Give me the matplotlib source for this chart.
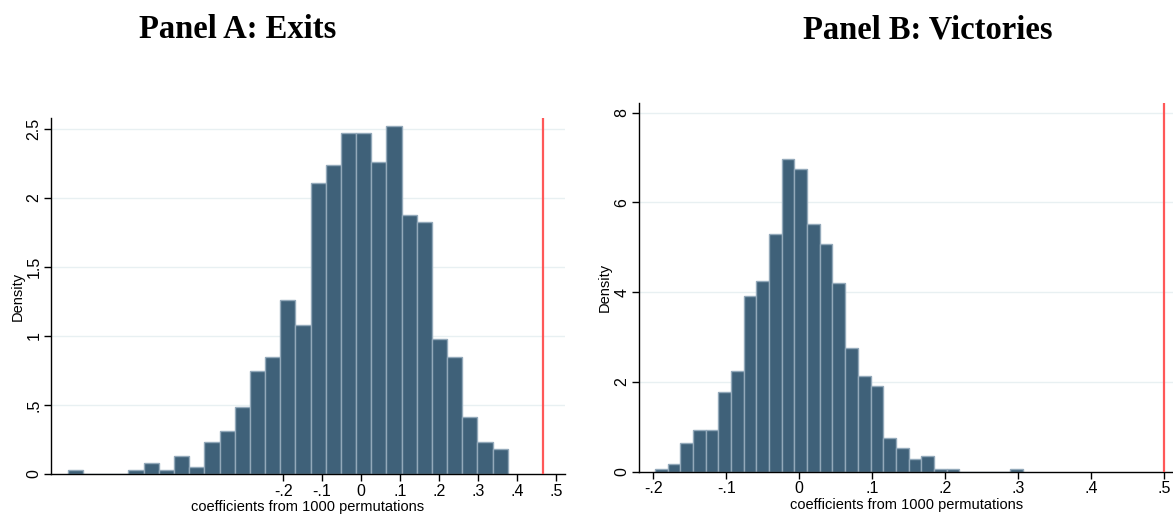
# permutation-test histograms for exits and victories
import matplotlib.pyplot as plt
import numpy as np

plt.rcParams['font.family'] = ['Liberation Sans', 'DejaVu Sans']

# Panel A: exits -- 29 bins, counts out of 1000 permutations
exits_start = -0.752
exits_width = 0.0389
exits_counts = [1, 0, 0, 0, 1, 3, 1, 5, 2, 9, 12, 19, 29, 33, 49, 42, 82, 87,
                96, 96, 88, 98, 73, 71, 38, 33, 16, 9, 7]
exits_actual = 0.467
exits_xticks = [-0.2, -0.1, 0, 0.1, 0.2, 0.3, 0.4, 0.5]
exits_xlabels = ['-.2', '-.1', '0', '.1', '.2', '.3', '.4', '.5']
exits_yticks = [0, 0.5, 1, 1.5, 2, 2.5]
exits_ylabels = ['0', '.5', '1', '1.5', '2', '2.5']

# Panel B: victories
vict_start = -0.1977
vict_width = 0.01738
vict_counts = [1, 3, 11, 16, 16, 31, 39, 68, 74, 92, 121, 117, 96, 88, 73, 48,
               37, 33, 13, 9, 5, 6, 1, 1, 0, 0, 0, 0, 1]
vict_actual = 0.4995
vict_xticks = [-0.2, -0.1, 0, 0.1, 0.2, 0.3, 0.4, 0.5]
vict_xlabels = ['-.2', '-.1', '0', '.1', '.2', '.3', '.4', '.5']
vict_yticks = [0, 2, 4, 6, 8]
vict_ylabels = ['0', '2', '4', '6', '8']

bar_face = '#3f6179'
bar_edge = '#93a9ba'
grid_col = '#e8f0f2'
red = '#ff5858'


def panel(ax, start, width, counts, actual, xt, xl, yt, yl, xlim, ylim, xlab_y):
    edges = start + width * np.arange(len(counts) + 1)
    ax.hist(edges[:-1] + width / 2, bins=edges, weights=counts, density=True,
            color=bar_face, edgecolor=bar_edge, linewidth=1.0, zorder=2)
    ax.axvline(actual, color=red, linewidth=1.6, zorder=3)
    ax.set_xlim(*xlim)
    ax.set_ylim(*ylim)
    ax.set_xticks(xt)
    ax.set_xticklabels(xl)
    ax.set_yticks(yt)
    ax.set_yticklabels(yl, rotation=90, va='center')
    for y in yt[1:]:
        ax.axhline(y, color=grid_col, linewidth=1.0, zorder=1)
    for s in ['top', 'right']:
        ax.spines[s].set_visible(False)
    for s in ['left', 'bottom']:
        ax.spines[s].set_linewidth(1.0)
    ax.tick_params(direction='out', length=5, width=1, labelsize=11.5, pad=2)
    ax.set_ylabel('Density', fontsize=10.5, va='center')
    ax.yaxis.set_label_coords(-0.064, 0.5)
    ax.set_xlabel('coefficients from 1000 permutations', fontsize=10.5, va='center')
    ax.xaxis.set_label_coords(0.5, xlab_y)


fig = plt.figure(figsize=(11.73, 5.14), dpi=100)
ax1 = fig.add_axes([0.0435, 0.0778, 0.4382, 0.6926])
ax2 = fig.add_axes([0.5450, 0.0823, 0.4550, 0.7179])

panel(ax1, exits_start, exits_width, exits_counts, exits_actual,
      exits_xticks, exits_xlabels, exits_yticks, exits_ylabels,
      (-0.795, 0.523), (0, 2.58), -0.092)
panel(ax2, vict_start, vict_width, vict_counts, vict_actual,
      vict_xticks, vict_xlabels, vict_yticks, vict_ylabels,
      (-0.219, 0.512), (0, 8.22), -0.089)

title_font = dict(fontsize=23.5, fontweight='bold', family=['Liberation Serif'],
                  ha='center', va='center')
fig.text(238 / 1173, 1 - 30 / 514, 'Panel A: Exits', **title_font)
fig.text(928 / 1173, 1 - 30 / 514, 'Panel B: Victories', **title_font)

fig.savefig('out.png', dpi=100)
